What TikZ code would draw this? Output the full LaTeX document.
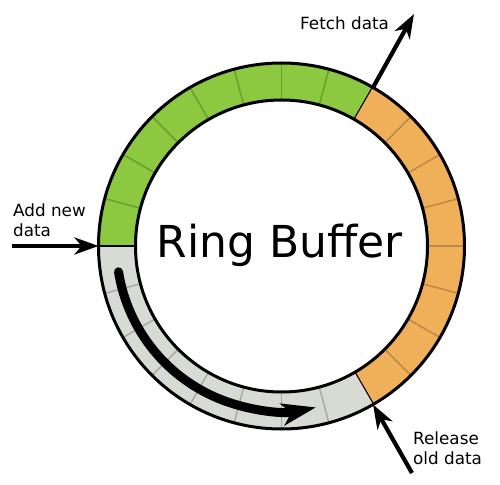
\documentclass[tikz,border=0pt]{standalone}
\usepackage{fontspec}
\setmainfont{DejaVu Sans}
\usetikzlibrary{arrows.meta}
\definecolor{casevert}{HTML}{8CC840}
\definecolor{caseorange}{HTML}{F0B05A}
\definecolor{casegris}{HTML}{D8DAD4}

\begin{document}
\begin{tikzpicture}[x=1pt, y=1pt,
    bord/.style={line width=3pt},
    fleche/.style={line width=4.2pt, -{Stealth[length=24pt, width=17pt, inset=7pt]}},
    etiquette/.style={font=\fontsize{16.8}{20}\selectfont, inner sep=0pt, align=left}]
  \useasboundingbox (-281.5,-238) rectangle (218.5,246);

  \foreach \debut/\fin/\teinte in {60/180/casevert, -60/60/caseorange, -180/-60/casegris} {
    \fill[\teinte] (\debut:183) arc (\debut:\fin:183) -- (\fin:146) arc (\fin:\debut:146) -- cycle;
    \foreach \k in {1,...,7}
      \draw[black, opacity=0.22, line width=1.5pt] ({\debut+15*\k}:146) -- ({\debut+15*\k}:183);
    \draw[line width=2.5pt] (\debut:146) -- (\debut:183);
  }
  \draw[bord] (0,0) circle (183);
  \draw[bord] (0,0) circle (146);

  \coordinate (entree) at (180:183);
  \coordinate (sortie) at (60:183);
  \coordinate (liberation) at (-60:183);
  \coordinate (ajout) at (-269,0);
  \coordinate (lecture) at (132.5,232);
  \coordinate (depart) at (130.5,-227);
  \coordinate (debutfleche) at (-171:165);

  \draw[fleche] (ajout) -- (entree);
  \draw[fleche] (sortie) -- (lecture);
  \draw[fleche] (depart) -- (liberation);
  \draw[line width=9pt, line cap=round, -{Stealth[length=34pt, width=22pt, inset=9pt]}]
    (debutfleche) arc (-171:-78:165);

  \node[font=\fontsize{44}{50}\selectfont, anchor=base] (titre) at (-1.5,-12) {Ring Buffer};
  \node[etiquette, anchor=base west] (lire) at (18.5,216) {Fetch data};
  \node[etiquette, anchor=north west] (ajouter) at (-268.5,42) {Add new\\data};
  \node[etiquette, anchor=north west] (liberer) at (131.5,-186) {Release\\old data};
\end{tikzpicture}
\end{document}
